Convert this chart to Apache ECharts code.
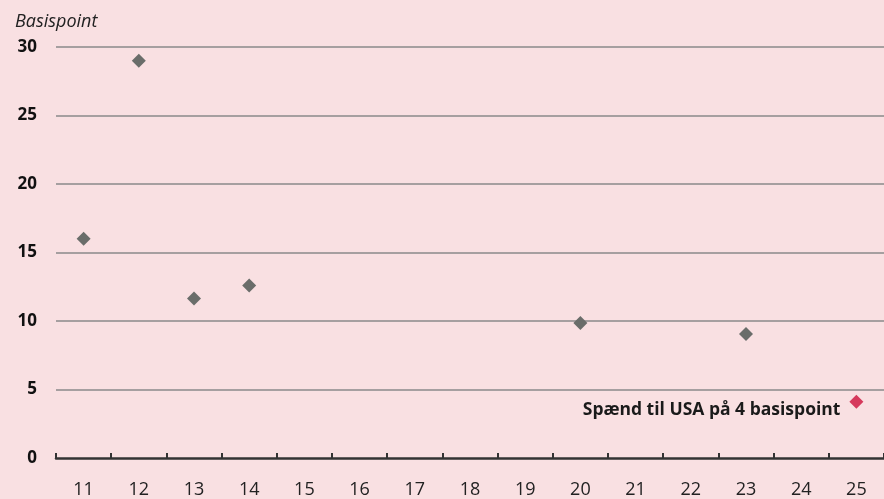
<!DOCTYPE html>
<html><head><meta charset="utf-8">
<script src="https://cdn.jsdelivr.net/npm/echarts@6/dist/echarts.min.js"></script>
<style>html,body{margin:0;padding:0;background:#f9e0e2;}#c{width:884px;height:499px;}</style>
</head><body><div id="c"></div>
<script>
var categories = ['11','12','13','14','15','16','17','18','19','20','21','22','23','24','25'];
var otherValues = [16, 29, 11.65, 12.6, null, null, null, null, null, 9.85, null, null, 9.05, null, null];
var usaValues = [null, null, null, null, null, null, null, null, null, null, null, null, null, null, 4.1];
var yTicks = [0, 5, 10, 15, 20, 25, 30];
var unitLabel = 'Basispoint';
var annotation = 'Spænd til USA på 4 basispoint';

var chart = echarts.init(document.getElementById('c'));
chart.setOption({
  backgroundColor: '#f9e0e2',
  animation: false,
  title: {
    text: unitLabel, left: 10, top: 8,
    textStyle: {fontFamily: 'Open Sans', fontStyle: 'italic', fontWeight: 'normal', fontSize: 18, color: '#222'}
  },
  grid: {left: 56, right: -4, top: 47, bottom: 40, containLabel: false},
  xAxis: {
    type: 'category', data: categories, boundaryGap: true,
    axisLine: {show: true, lineStyle: {color: '#333', width: 2.5}},
    axisTick: {show: true, inside: true, length: 5, interval: 0, alignWithLabel: false, lineStyle: {color: '#333', width: 2}},
    axisLabel: {interval: 0, margin: 23, fontFamily: 'Open Sans', fontSize: 18, color: '#222'},
    splitLine: {show: false}
  },
  yAxis: {
    type: 'value', min: yTicks[0], max: yTicks[yTicks.length-1], interval: 5,
    axisLine: {show: false}, axisTick: {show: false},
    axisLabel: {margin: 19, fontFamily: 'Open Sans', fontWeight: 'bold', fontSize: 17, color: '#111'},
    splitLine: {show: true, lineStyle: {color: '#8a8a8a', width: 1.5},
      showMinLine: false}
  },
  series: [
    {type: 'scatter', data: otherValues, symbol: 'diamond', symbolSize: 14,
     itemStyle: {color: '#6a6d6a', opacity: 1}},
    {type: 'scatter', data: usaValues, symbol: 'diamond', symbolSize: 14,
     itemStyle: {color: '#d6395c', opacity: 1},
     label: {show: true, position: 'left', distance: 9, offset: [0, 8], formatter: annotation,
       fontFamily: 'Open Sans', fontWeight: 'bold', fontSize: 17.5, color: '#1a1a1a'}}
  ]
});
</script></body></html>
